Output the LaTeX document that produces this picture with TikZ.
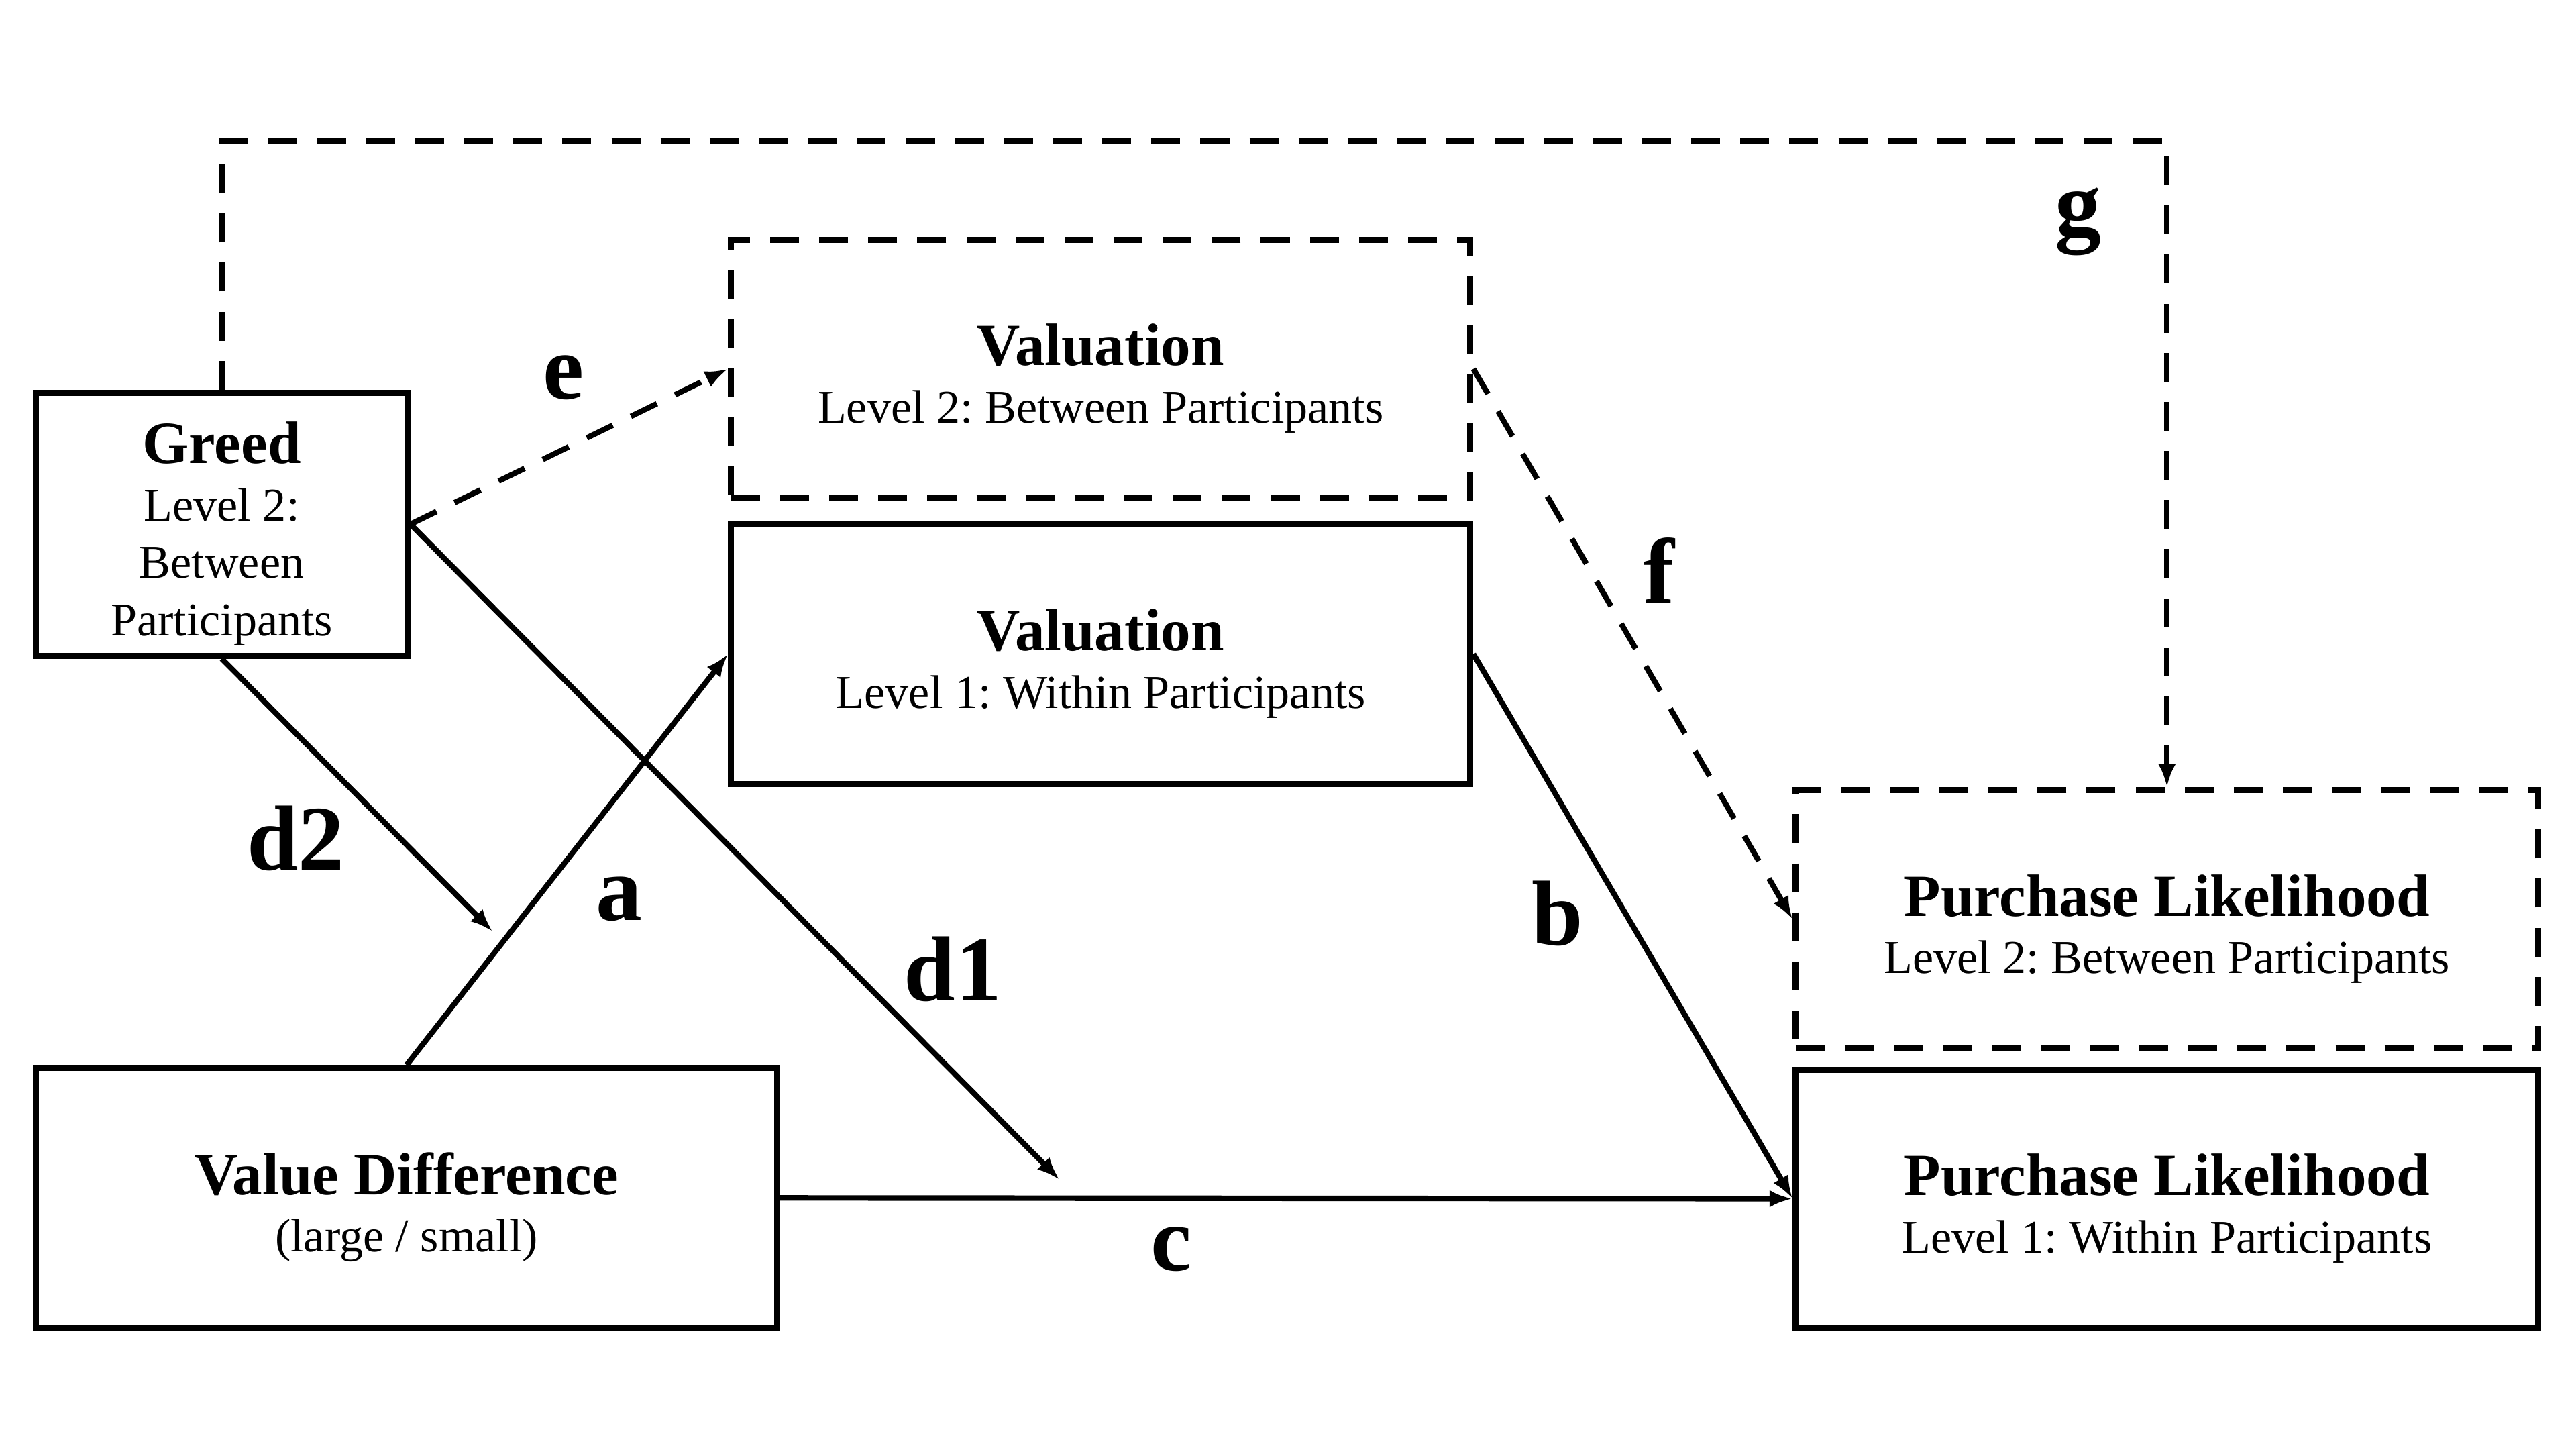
\documentclass[tikz,border=0pt]{standalone}
\usepackage{fontspec}
\setmainfont{Liberation Serif}
\frenchspacing
\usetikzlibrary{arrows.meta}
\newcommand{\headline}[1]{{\fontsize{20.7}{24}\selectfont\bfseries\rule{0pt}{21pt}#1}}
\newcommand{\pathfont}{\fontsize{32}{36}\selectfont\bfseries}
\begin{document}
\begin{tikzpicture}[line join=miter, >={Latex[length=8pt,width=6pt]},
    font=\fontsize{16.3}{19.9}\selectfont,
    box/.style={draw, line width=2.1pt, align=center, inner sep=0pt},
    dbox/.style={box, dash pattern=on 10pt off 7pt},
    path/.style={line width=1.9pt},
    dpath/.style={path, dash pattern=on 10pt off 7pt},
    lbl/.style={font=\pathfont, inner sep=0pt}]
    \useasboundingbox (0,0) rectangle (31.36,17.64);
    % boxes
    \node[box, minimum width=4.52cm, minimum height=3.2cm] (greed) at (2.70,11.26)
        {\headline{Greed}\\Level 2:\\Between\\Participants};
    \node[dbox, minimum width=9cm, minimum height=3.14cm] (valtwo) at (13.40,13.15)
        {\headline{Valuation}\\Level 2: Between Participants};
    \node[box, minimum width=9cm, minimum height=3.16cm] (valone) at (13.40,9.68)
        {\headline{Valuation}\\Level 1: Within Participants};
    \node[box, minimum width=9.02cm, minimum height=3.16cm] (valdiff) at (4.95,3.06)
        {\headline{Value Difference}\\(large / small)};
    \node[dbox, minimum width=9.04cm, minimum height=3.14cm] (purtwo) at (26.38,6.45)
        {\headline{Purchase Likelihood}\\Level 2: Between Participants};
    \node[box, minimum width=9.04cm, minimum height=3.14cm] (purone) at (26.38,3.05)
        {\headline{Purchase Likelihood}\\Level 1: Within Participants};
    % free ends
    \coordinate (gtop) at (26.38,15.92);
    \coordinate (d1end) at (12.90,3.28);
    \coordinate (d2end) at (6.00,6.30);
    % paths
    \draw[dpath,->] (greed.north) |- (gtop) -- (purtwo.north);
    \draw[dpath,->] (greed.east) -- (valtwo.west);
    \draw[dpath,->] (valtwo.east) -- (purtwo.west);
    \draw[path,->] (valdiff.north) -- (valone.west);
    \draw[path,->] (valone.east) -- (purone.west);
    \draw[path,->] (valdiff.east) -- (purone.west);
    \draw[path,->] (greed.east) -- (d1end);
    \draw[path,->] (greed.south) -- (d2end);
    % labels
    \node[lbl] (lg) at (25.30,14.94) {g};
    \node[lbl] (le) at (6.86,13.04) {e};
    \node[lbl] (lf) at (20.20,10.70) {f};
    \node[lbl] (ld2) at (3.60,7.44) {d2};
    \node[lbl] (la) at (7.54,6.70) {a};
    \node[lbl] (ld1) at (11.60,5.84) {d1};
    \node[lbl] (lb) at (18.96,6.52) {b};
    \node[lbl] (lc) at (14.26,2.44) {c};
\end{tikzpicture}
\end{document}
